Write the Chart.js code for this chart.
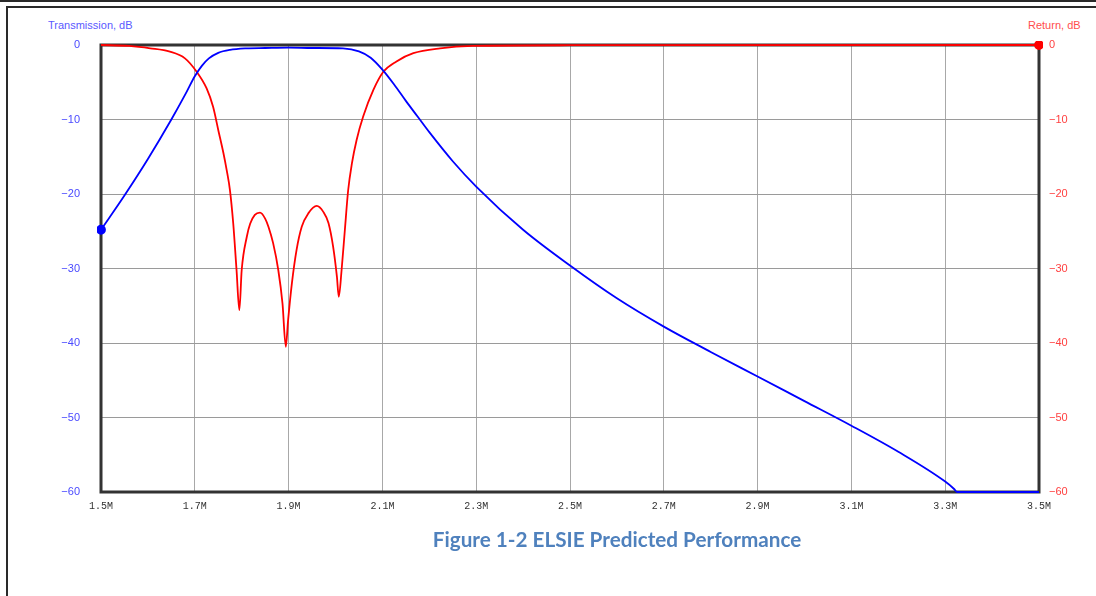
<!DOCTYPE html>
<html>
<head>
<meta charset="utf-8">
<script src="https://cdn.jsdelivr.net/npm/chart.js@4.4.0/dist/chart.umd.min.js"></script>
<style>
  html, body { margin: 0; padding: 0; background: #fff; }
  body { width: 1096px; height: 596px; position: relative; overflow: hidden; }
  #chart { position: absolute; left: 0; top: 0; }
  .rule { position: absolute; background: #2a2a2a; }
  .axis-title { position: absolute; top: 19px; font: 11px "Liberation Sans", Arial, sans-serif; }
  #caption {
    position: absolute; left: 0; width: 1234px; top: 527px; text-align: center;
    font: bold 20.7px Lato, "Open Sans", sans-serif; color: #4F81BD;
  }
</style>
</head>
<body>
<div class="rule" style="left:0;top:0;width:1096px;height:2px"></div>
<div class="rule" style="left:6px;top:6px;width:1090px;height:2px"></div>
<div class="rule" style="left:6px;top:6px;width:2px;height:590px"></div>
<div class="axis-title" style="left:48px;color:#5a5aff">Transmission, dB</div>
<div class="axis-title" style="left:1028px;color:#ff4d4d">Return, dB</div>
<canvas id="chart" width="1096" height="596"></canvas>
<div id="caption">Figure 1-2 ELSIE Predicted Performance</div>
<script>
// frequency in MHz, levels in dB
var transFreq = [1.500, 1.550, 1.600, 1.650, 1.680, 1.700, 1.715, 1.730, 1.750, 1.775, 1.810,
                 1.850, 1.900, 1.950, 2.016, 2.050, 2.075, 2.100, 2.125, 2.150, 2.175, 2.200,
                 2.250, 2.300, 2.400, 2.500, 2.600, 2.700, 2.800, 2.900, 3.000, 3.100, 3.200,
                 3.300, 3.319, 3.325, 3.500];
var transDb   = [-24.8, -20.2, -15.3, -10.0, -6.6, -4.2, -2.8, -1.8, -1.05, -0.65, -0.45,
                 -0.4, -0.35, -0.4, -0.45, -0.85, -1.7, -3.3, -5.3, -7.5, -9.6, -11.7,
                 -15.6, -19.0, -24.8, -29.6, -34.0, -37.8, -41.2, -44.5, -47.8, -51.1, -54.6,
                 -58.6, -59.6, -60, -60];

var returnFreq = [1.500, 1.560, 1.605, 1.647, 1.679, 1.704, 1.725, 1.739, 1.750, 1.761, 1.768,
                  1.775, 1.782, 1.789, 1.795, 1.800, 1.811, 1.818, 1.828, 1.839, 1.850, 1.857,
                  1.867, 1.878, 1.887, 1.894, 1.899, 1.907, 1.917, 1.928, 1.942, 1.960, 1.974,
                  1.985, 1.995, 2.003, 2.007, 2.013, 2.020, 2.027, 2.035, 2.045, 2.059, 2.081,
                  2.102, 2.130, 2.166, 2.223, 2.293, 2.500, 3.500];
var returnDb   = [0, -0.13, -0.45, -0.9, -1.8, -3.6, -5.8, -8.3, -11.4, -14.5, -16.8,
                  -19.5, -24.0, -30.2, -35.6, -30.2, -25.7, -24.0, -22.8, -22.5, -23.3, -24.4,
                  -26.6, -30.2, -34.7, -40.5, -36.9, -32.0, -27.5, -24.4, -22.6, -21.6, -22.4,
                  -23.9, -27.1, -31.1, -33.8, -30.2, -24.8, -19.5, -15.9, -12.75, -9.6, -6.0,
                  -3.6, -2.2, -1.1, -0.45, -0.13, -0.03, 0];

var freqMin = 1.5, freqMax = 3.5, freqStep = 0.2;
var dbMin = -60, dbMax = 0, dbStep = 10;

function points(xs, ys) {
  return xs.map(function(x, i) { return { x: x, y: ys[i] }; });
}

function dbLabel(v) {
  return v < 0 ? '\u2212' + Math.abs(v) : String(v);
}

// heavy frame around the plot, drawn under the traces
var plotFrame = {
  id: 'plotFrame',
  beforeDatasetsDraw: function(chart) {
    var a = chart.chartArea, c = chart.ctx;
    c.save();
    c.strokeStyle = '#333';
    c.lineWidth = 3;
    c.strokeRect(a.left, a.top, a.right - a.left, a.bottom - a.top);
    c.restore();
  }
};

new Chart(document.getElementById('chart'), {
  type: 'line',
  data: {
    datasets: [{
      label: 'Transmission',
      data: points(transFreq, transDb),
      borderColor: '#0000ff',
      backgroundColor: '#0000ff',
      borderWidth: 1.8,
      cubicInterpolationMode: 'monotone',
      pointRadius: function(ctx) { return ctx.dataIndex === 0 ? 4 : 0; },
      yAxisID: 'y',
      clip: 4
    }, {
      label: 'Return',
      data: points(returnFreq, returnDb),
      borderColor: '#ff0000',
      backgroundColor: '#ff0000',
      borderWidth: 1.8,
      cubicInterpolationMode: 'monotone',
      pointRadius: function(ctx) { return ctx.dataIndex === returnFreq.length - 1 ? 4 : 0; },
      yAxisID: 'y2',
      clip: 4
    }]
  },
  options: {
    responsive: false,
    animation: false,
    layout: { padding: { top: 45, left: 0, right: 0, bottom: 0 } },
    plugins: { legend: { display: false }, tooltip: { enabled: false } },
    scales: {
      x: {
        type: 'linear',
        min: freqMin,
        max: freqMax,
        afterFit: function(s) { s.height = 104; },
        border: { display: false },
        grid: { color: '#a8a8a8', lineWidth: 1, drawTicks: false },
        ticks: {
          stepSize: freqStep,
          padding: 8,
          color: '#333',
          font: { family: 'Liberation Mono', size: 10 },
          callback: function(v) { return v.toFixed(1) + 'M'; }
        }
      },
      y: {
        position: 'left',
        min: dbMin,
        max: dbMax,
        afterFit: function(s) { s.width = 101; },
        border: { display: false },
        grid: { color: '#9a9a9a', lineWidth: 1, drawTicks: false },
        ticks: {
          stepSize: dbStep,
          padding: 21,
          color: '#4a4aff',
          font: { family: 'Liberation Sans', size: 11 },
          callback: dbLabel
        }
      },
      y2: {
        position: 'right',
        min: dbMin,
        max: dbMax,
        afterFit: function(s) { s.width = 57; },
        border: { display: false },
        grid: { display: false, drawTicks: false },
        ticks: {
          stepSize: dbStep,
          padding: 10,
          color: '#ff4040',
          font: { family: 'Liberation Sans', size: 11 },
          callback: dbLabel
        }
      }
    }
  },
  plugins: [plotFrame]
});
</script>
</body>
</html>
